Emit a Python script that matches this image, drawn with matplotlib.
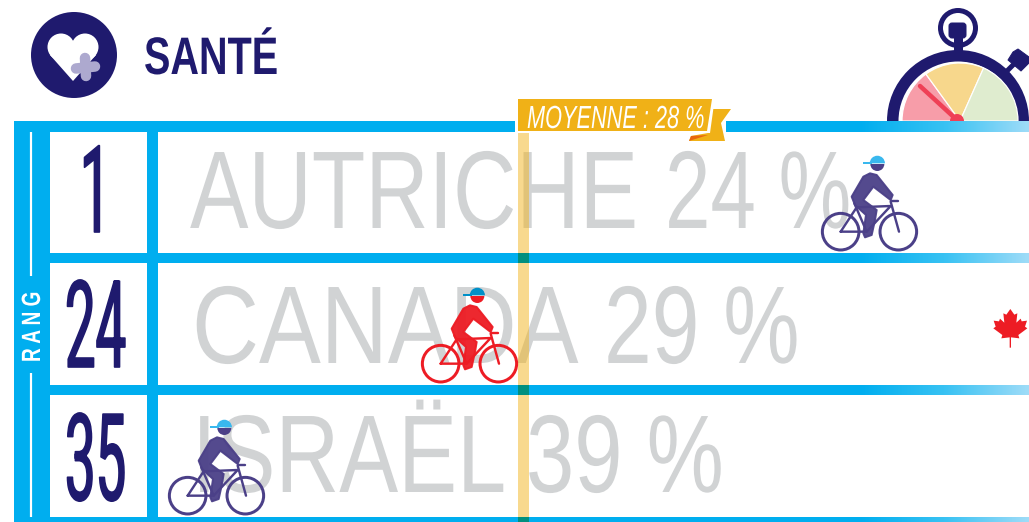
import numpy as np
import matplotlib
matplotlib.use("Agg")
import matplotlib.pyplot as plt
from matplotlib.colors import LinearSegmentedColormap
from matplotlib.patches import Circle, Polygon, Rectangle, Wedge, FancyBboxPatch
from matplotlib.patheffects import AbstractPathEffect
from matplotlib.transforms import Affine2D

# data
countries = ["AUTRICHE", "CANADA", "ISRAËL"]
ranks = [1, 24, 35]
rates = [24, 29, 39]
average = 28
title = "SANTÉ"
rank_label = "R A N G"

# the cyclists do not sit on a straight scale in the original
scale_rates = [24, 28, 29, 39]
scale_pixels = [870, 524, 470, 217]

NARROW = ["Liberation Sans Narrow", "Liberation Sans", "DejaVu Sans"]
BLUE = "#00AEEF"
NAVY = "#1F1A6E"
GREY = "#D1D3D4"
GOLD = "#F0B117"

row_bottoms = [253, 385, 517]
name_x = [190, 192, 192]
name_base = [228, 363, 492]
name_sx = [0.794, 0.84, 0.80]
rate_lx = [665, 604, 526]
rate_sx = [0.74, 0.777, 0.786]
rank_base = [232, 367, 500]
rank_x = [80, 65, 65]


class Tall(AbstractPathEffect):
    # no condensed face is as thin as the original: a smaller size pulled up to full height
    def __init__(self, sy, stroke=0):
        super().__init__()
        self.sy = sy
        self.stroke = stroke

    def draw_path(self, renderer, gc, tpath, affine, rgbFace=None):
        gc0 = renderer.new_gc()
        gc0.copy_properties(gc)
        if self.stroke:
            gc0.set_linewidth(self.stroke)
            gc0.set_foreground(rgbFace)
        renderer.draw_path(gc0, tpath, Affine2D().scale(1, self.sy) + affine, rgbFace)
        gc0.restore()


def rate_x(rate):
    return np.interp(rate, scale_rates, scale_pixels)


def px(width):
    return width * 72 / 100


def label(ax, x, y, s, size, color, sx=1.0, z=3, family=NARROW, stroke=0, **kw):
    return ax.text(x, y, s, fontsize=size * sx, color=color, family=family, ha="left",
                   va="baseline", zorder=z, path_effects=[Tall(1 / sx, stroke)], **kw)


def bar(ax, x0, x1, y0, y1, fade_from=860):
    # solid blue bar that fades out towards the right edge
    if x0 < fade_from:
        ax.add_patch(Rectangle((x0, y0), min(fade_from, x1) - x0, y1 - y0, fc=BLUE, ec="none", zorder=2))
    if x1 > fade_from:
        ax.imshow(np.linspace(0, 1, 256).reshape(1, -1), cmap=fade, aspect="auto",
                  extent=(fade_from, x1, y1, y0), zorder=2, vmin=0, vmax=1)


def cyclist(ax, x, bottom, body, cap):
    def p(zx, zy):
        return x + (zx - 150) / 3, bottom + (zy - 309) / 3

    z = 6
    for cx in [62, 235]:
        ax.add_patch(Circle(p(cx, 245), 18.3, fc="none", ec=body, lw=px(3), zorder=z))
    frame = [[(62, 245), (110, 172), (212, 168), (140, 245), (62, 245)],
             [(103, 160), (140, 245)],
             [(212, 155), (237, 245)],
             [(212, 152), (235, 152)]]
    for line in frame:
        xs, ys = zip(*[p(*q) for q in line])
        ax.plot(xs, ys, color=body, lw=px(2.4), zorder=z, solid_capstyle="round")
    torso = [(150, 70), (170, 75), (218, 135), (212, 150), (160, 110), (130, 150), (170, 180),
             (165, 210), (155, 255), (135, 262), (130, 250), (138, 195), (105, 165), (95, 140), (130, 80)]
    ax.add_patch(Polygon([p(*q) for q in torso], closed=True, fc=body, ec=body, lw=px(2),
                         joinstyle="round", alpha=0.95, zorder=z))
    ax.add_patch(Wedge(p(172, 42), 7, 0, 180, fc=body, ec="none", zorder=z))
    ax.add_patch(Wedge(p(172, 40), 7.6, 180, 360, fc=cap, ec="none", zorder=z + 1))
    ax.add_patch(Polygon([p(130, 35), (p(155, 35)), p(155, 42), p(130, 42)], closed=True,
                         fc=cap, ec="none", zorder=z + 1))


fade = LinearSegmentedColormap.from_list("fade", [BLUE, "#38C2F3", "#9FDCF8"])

fig = plt.figure(figsize=(10.29, 5.22), dpi=100)
ax = fig.add_axes([0, 0, 1, 1])

# frame and rows
ax.add_patch(Rectangle((14, 121), 36, 401, fc=BLUE, ec="none", zorder=2))
ax.add_patch(Rectangle((147, 121), 11, 401, fc=BLUE, ec="none", zorder=2))
bar(ax, 14, 515, 121, 132)
bar(ax, 726, 1029, 121, 132)
for y in [253, 385]:
    bar(ax, 50, 1029, y, y + 10)
bar(ax, 50, 1029, 517, 522)
ax.plot([31, 31], [132, 276], color="white", lw=px(2.2), zorder=3, solid_capstyle="butt")
ax.plot([31, 31], [373, 517], color="white", lw=px(2.2), zorder=3, solid_capstyle="butt")
label(ax, 40, 362, rank_label, 19, "white", sx=0.72, fontweight="bold", rotation=90, rotation_mode="anchor")

# header
ax.add_patch(Circle((74, 55), 43, fc=NAVY, ec="none", zorder=3))
ax.add_patch(Circle((61, 47), 13.5, fc="white", ec="none", zorder=4))
ax.add_patch(Circle((85, 47), 13.5, fc="white", ec="none", zorder=4))
ax.add_patch(Polygon([(50, 55), (73, 81), (96, 55), (73, 44)], closed=True, fc="white", ec="none", zorder=4))
ax.plot([76, 95], [68.5, 66.5], color="#ADA9CF", lw=px(10.5), zorder=5, solid_capstyle="round")
ax.plot([85, 86], [58, 76], color="#ADA9CF", lw=px(10.5), zorder=5, solid_capstyle="round")
label(ax, 144, 74, title, 38, NAVY, sx=0.75, fontweight="bold")

# stopwatch
c = (958, 121)
ax.add_patch(Wedge(c, 71, 180, 360, width=11.5, fc=NAVY, ec="none", zorder=1))
for a0, a1, col in [(-180, -126, "#F79DA9"), (-126, -66, "#F7D78C"), (-66, 0, "#DFECCF")]:
    ax.add_patch(Wedge((960, 121), 58, a0, a1, fc=col, ec="white", lw=px(1.2), zorder=1))
ax.plot([920, 957], [86, 120], color="#EF4056", lw=px(4.5), zorder=1.5, solid_capstyle="round")
ax.add_patch(Circle((957, 121), 7, fc="#EF4056", ec="none", zorder=1.5))
ax.add_patch(Circle((958, 28), 17.5, fc="none", ec=NAVY, lw=px(5), zorder=1))
ax.add_patch(FancyBboxPatch((949, 23), 17, 15, boxstyle="round,pad=0,rounding_size=3", fc=NAVY, ec=NAVY, lw=px(1), zorder=1))
ax.add_patch(Rectangle((954, 36), 9, 16, fc=NAVY, ec="none", zorder=1))
ax.plot([1004, 1016], [74, 62], color=NAVY, lw=px(5), zorder=1, solid_capstyle="butt")
ax.add_patch(Polygon([(1018, 49), (1029, 57), (1029, 63), (1021, 71), (1008, 60), (1013, 52)], closed=True,
                     fc=NAVY, ec=NAVY, lw=px(1), joinstyle="round", zorder=1))

# rows
for i, country in enumerate(countries):
    label(ax, name_x[i], name_base[i], country, 79.5, GREY, sx=name_sx[i], z=3)
    label(ax, rate_lx[i], name_base[i], f"{rates[i]} %", 79.5, GREY, sx=rate_sx[i], z=3)
    label(ax, rank_x[i], rank_base[i], str(ranks[i]), 87, NAVY, sx=0.45, z=3,
          family=["Roboto", "DejaVu Sans"], stroke=1.2)

# average band
ax.add_patch(Rectangle((518, 132), 11, 385, fc="#F2B51E", alpha=0.5, ec="none", zorder=5))
for y in [253, 385, 517]:
    ax.add_patch(Rectangle((518, y), 11, 10 if y < 517 else 5, fc="#008F7F", ec="none", zorder=5.1))

# average ribbon
ax.add_patch(Polygon([(712, 109), (731, 109), (721, 123), (725, 141), (689, 141), (691, 136), (708, 133)],
                     closed=True, fc=GOLD, ec="none", zorder=7))
ax.add_patch(Polygon([(515, 97), (715, 97), (710, 133), (515, 133)], closed=True, fc="white", ec="none", zorder=7.2))
ax.add_patch(Polygon([(689, 141), (691, 136), (708, 135)], closed=True, fc="#E8650F", ec="none", zorder=8))
ax.add_patch(Polygon([(518, 99), (712, 99), (707, 131), (518, 131)], closed=True, fc=GOLD, ec="none", zorder=8))
label(ax, 527, 128, f"MOYENNE : {average} %", 23, "white", sx=0.68, z=9, style="italic")

# cyclists
body_cols = ["#4B4088", "#ED1C24", "#4B4088"]
cap_cols = ["#39B8EE", "#0090C8", "#39B8EE"]
for i, rate in enumerate(rates):
    cyclist(ax, rate_x(rate), row_bottoms[i], body_cols[i], cap_cols[i])

# maple leaf
leaf = [(91, 27), (103, 44), (112, 40), (109, 68), (122, 56), (125, 64), (141, 62), (135, 80), (142, 85),
        (115, 105), (118, 115), (93, 112), (93, 143), (89, 143), (89, 112), (64, 115), (67, 105), (40, 85),
        (47, 80), (41, 62), (57, 64), (60, 56), (73, 68), (70, 40), (79, 44)]
ax.add_patch(Polygon([(980 + a / 3, 300 + b / 3) for a, b in leaf], closed=True, fc="#ED1C24", ec="none", zorder=6))

ax.set_xlim(0, 1029)
ax.set_ylim(522, 0)
ax.axis("off")
fig.savefig("out.png", dpi=100, facecolor="white")
